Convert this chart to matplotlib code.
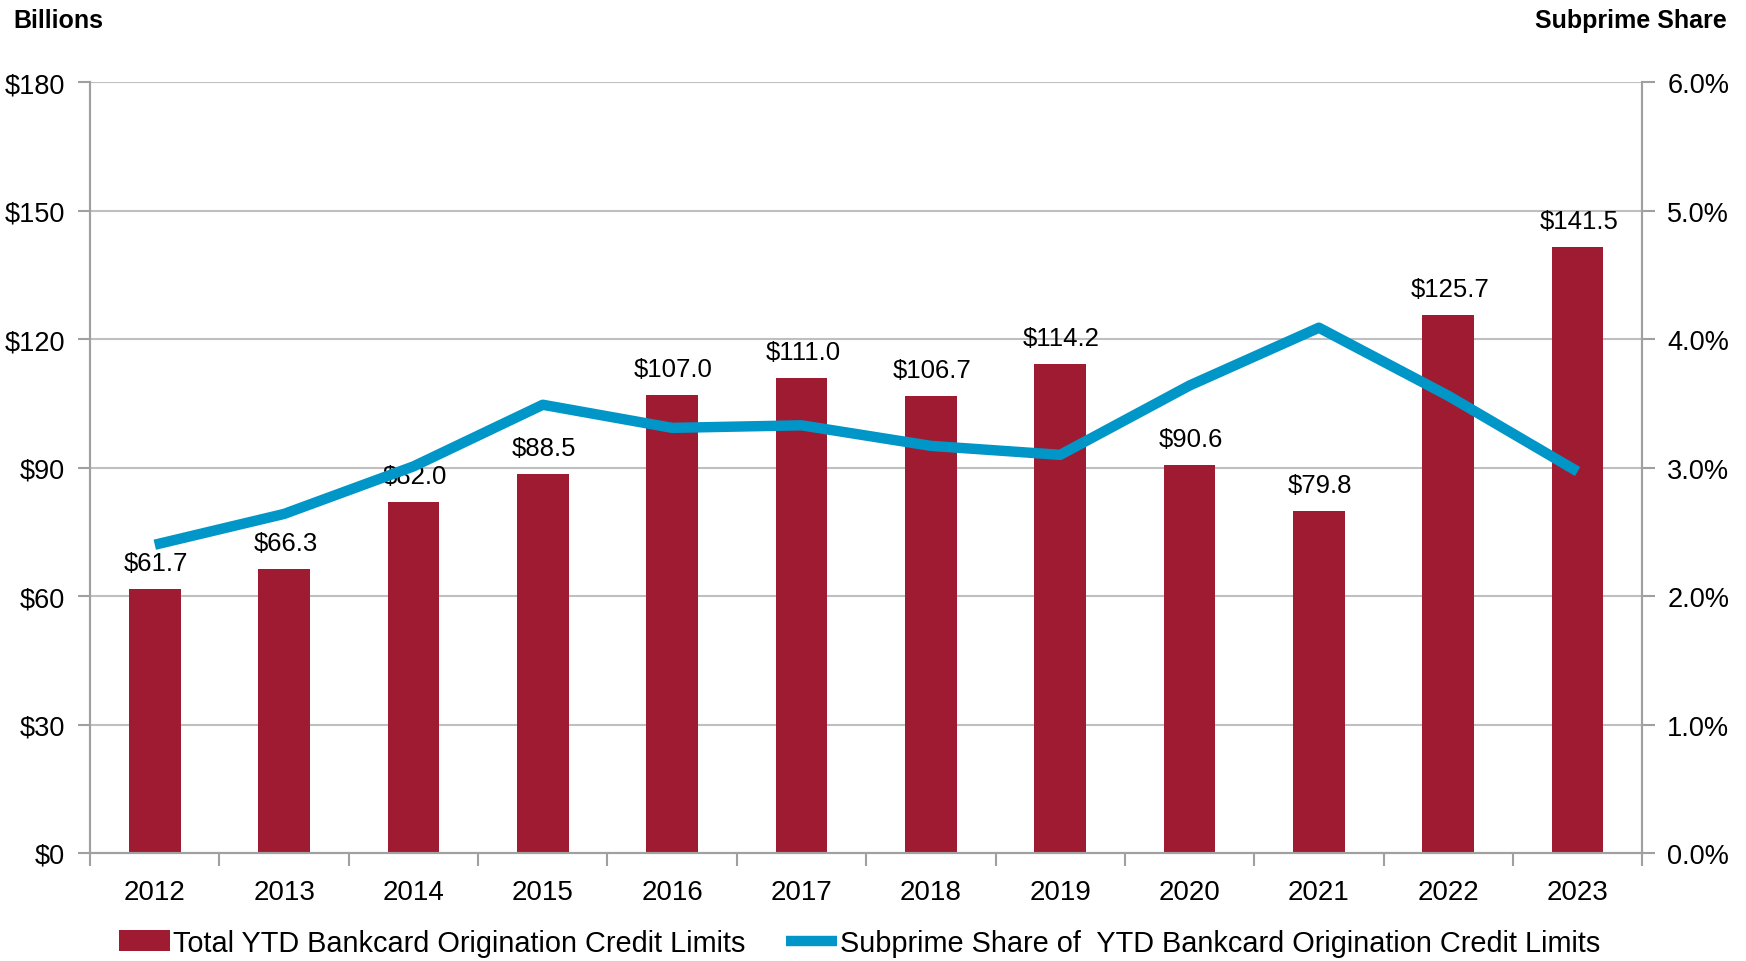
import numpy as np
import matplotlib
matplotlib.use("Agg")
from matplotlib import pyplot as plt
from matplotlib.ticker import FuncFormatter

# data
years = ['2012', '2013', '2014', '2015', '2016', '2017',
         '2018', '2019', '2020', '2021', '2022', '2023']
limits = [61.7, 66.3, 82.0, 88.5, 107.0, 111.0, 106.7, 114.2, 90.6, 79.8, 125.7, 141.5]
subprime_share = [2.40, 2.64, 3.01, 3.49, 3.31, 3.33, 3.17, 3.10, 3.64, 4.09, 3.56, 2.97]

bar_color = '#9E1B32'
line_color = '#0096C8'
grid_color = '#BFBFBF'
axis_color = '#A0A0A0'

plt.rcParams['font.family'] = ['Liberation Sans', 'DejaVu Sans']

fig = plt.figure(figsize=(17.46, 9.62), dpi=100)
ax = fig.add_axes([0.0516, 0.1123, 0.889, 0.801])
ax2 = ax.twinx()

x = np.arange(len(years))
bars = ax.bar(x, limits, width=0.4, color=bar_color, zorder=2,
              label='Total YTD Bankcard Origination Credit Limits')
for xi, v in zip(x, limits):
    ax.annotate('$%.1f' % v, (xi, v), xytext=(1, 10), textcoords='offset points',
                ha='center', va='bottom', fontsize=18.5, color='black')

line, = ax2.plot(x, subprime_share, color=line_color, lw=7.5, solid_capstyle='butt',
                 label='Subprime Share of  YTD Bankcard Origination Credit Limits')

ax.set_xlim(-0.5, len(years) - 0.5)
ax.set_ylim(0, 180)
ax.set_yticks(np.arange(0, 181, 30))
ax.yaxis.set_major_formatter(FuncFormatter(lambda v, p: '$%d' % v))
ax2.set_ylim(0, 6)
ax2.set_yticks(np.arange(0, 6.1, 1))
ax2.yaxis.set_major_formatter(FuncFormatter(lambda v, p: '%.1f%%' % v))

ax.set_xticks(x)
ax.set_xticklabels(years)
ax.set_xticks(np.arange(-0.5, len(years), 1), minor=True)
ax.tick_params(axis='x', which='major', length=0, pad=19, labelsize=20)
ax.tick_params(axis='x', which='minor', length=9, width=1.5, color=axis_color, direction='out')
ax.tick_params(axis='y', length=9, width=1.5, color=axis_color, labelsize=19.5, pad=9)
ax2.tick_params(axis='y', length=9, width=1.5, color=axis_color, labelsize=19.5, pad=9)

ax.grid(axis='y', color=grid_color, lw=1.5, zorder=0)
ax.set_axisbelow(True)
for a in (ax, ax2):
    a.spines['top'].set_visible(False)
    for s in ('left', 'right', 'bottom'):
        a.spines[s].set_color(axis_color)
        a.spines[s].set_linewidth(1.5)

fig.text(0.0075, 0.978, 'Billions', fontsize=18, fontweight='bold',
         ha='left', va='center')
fig.text(0.989, 0.978, 'Subprime Share', fontsize=18, fontweight='bold',
         ha='right', va='center')

fig.legend(handles=[bars, line], loc='center', bbox_to_anchor=(0.4925, 0.019), ncol=2,
           frameon=False, fontsize=20.8, handlelength=1.75, handletextpad=0.12,
           columnspacing=1.4)

fig.savefig('out.png', dpi=100)
